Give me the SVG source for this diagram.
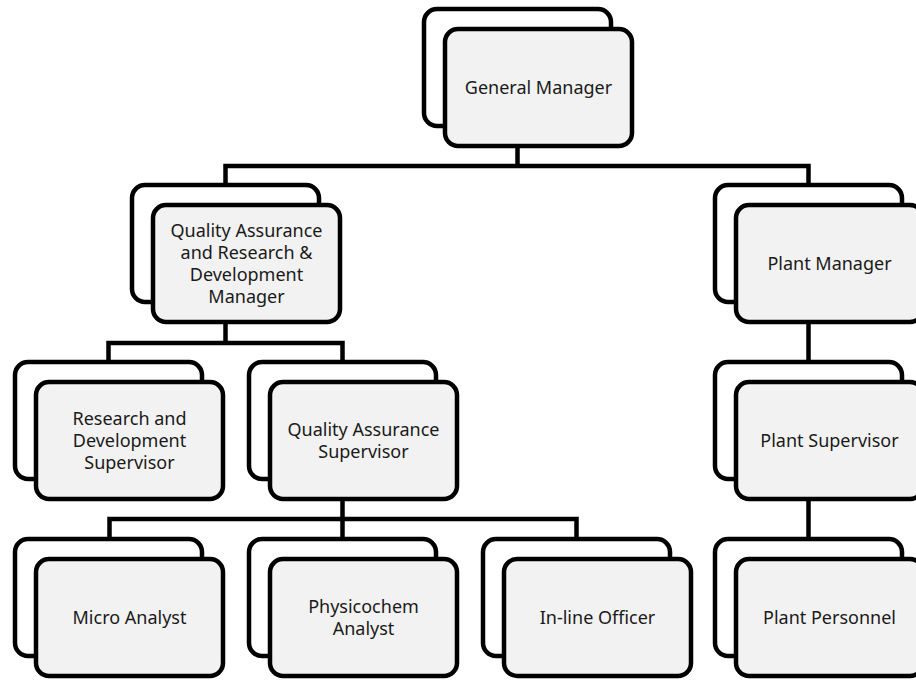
<svg xmlns="http://www.w3.org/2000/svg" width="916" height="681" viewBox="0 0 916 681">
<style>
.back{fill:#ffffff;stroke:#000000;stroke-width:4.5}
.front{fill:#f2f2f2;stroke:#000000;stroke-width:4.5}
.lbl{font-family:"Noto Sans","Open Sans",sans-serif;font-size:18px;fill:#1a1a1a;text-anchor:middle}
.conn{fill:none;stroke:#000000;stroke-width:4.5;stroke-linejoin:miter}
</style>
<rect width="916" height="681" fill="#ffffff"/>
<g id="connectors">
<path class="conn" d="M517.5,146 V166 M225.5,185 V166 H808.5 V185"/>
<path class="conn" d="M225.5,322 V343 M108.5,362 V343 H342.5 V362"/>
<path class="conn" d="M808.5,322 V362 M808.5,499 V539"/>
<path class="conn" d="M342.5,499 V519 M109.5,539 V519 H576.5 V539 M342.5,519 V539"/>
</g>
<g id="general-manager">
<rect class="back" x="424" y="9" width="187" height="117" rx="13"/>
<rect class="front" x="445" y="29" width="187" height="117" rx="13"/>
<text class="lbl" x="538.5" y="93.5">General Manager</text>
</g>
<g id="qa-rd-manager">
<rect class="back" x="132" y="185" width="187" height="117" rx="13"/>
<rect class="front" x="153" y="205" width="187" height="117" rx="13"/>
<text class="lbl" x="246.5" y="236.5">Quality Assurance</text>
<text class="lbl" x="246.5" y="258.5">and Research &amp;</text>
<text class="lbl" x="246.5" y="280.5">Development</text>
<text class="lbl" x="246.5" y="302.5">Manager</text>
</g>
<g id="plant-manager">
<rect class="back" x="715" y="185" width="187" height="117" rx="13"/>
<rect class="front" x="736" y="205" width="187" height="117" rx="13"/>
<text class="lbl" x="829.5" y="269.5">Plant Manager</text>
</g>
<g id="rd-supervisor">
<rect class="back" x="15" y="362" width="187" height="117" rx="13"/>
<rect class="front" x="36" y="382" width="187" height="117" rx="13"/>
<text class="lbl" x="129.5" y="424.5">Research and</text>
<text class="lbl" x="129.5" y="446.5">Development</text>
<text class="lbl" x="129.5" y="468.5">Supervisor</text>
</g>
<g id="qa-supervisor">
<rect class="back" x="249" y="362" width="187" height="117" rx="13"/>
<rect class="front" x="270" y="382" width="187" height="117" rx="13"/>
<text class="lbl" x="363.5" y="435.5">Quality Assurance</text>
<text class="lbl" x="363.5" y="457.5">Supervisor</text>
</g>
<g id="plant-supervisor">
<rect class="back" x="715" y="362" width="187" height="117" rx="13"/>
<rect class="front" x="736" y="382" width="187" height="117" rx="13"/>
<text class="lbl" x="829.5" y="446.5">Plant Supervisor</text>
</g>
<g id="micro-analyst">
<rect class="back" x="15" y="539" width="187" height="117" rx="13"/>
<rect class="front" x="36" y="559" width="187" height="117" rx="13"/>
<text class="lbl" x="129.5" y="623.5">Micro Analyst</text>
</g>
<g id="physicochem-analyst">
<rect class="back" x="249" y="539" width="187" height="117" rx="13"/>
<rect class="front" x="270" y="559" width="187" height="117" rx="13"/>
<text class="lbl" x="363.5" y="612.5">Physicochem</text>
<text class="lbl" x="363.5" y="634.5">Analyst</text>
</g>
<g id="inline-officer">
<rect class="back" x="483" y="539" width="187" height="117" rx="13"/>
<rect class="front" x="504" y="559" width="187" height="117" rx="13"/>
<text class="lbl" x="597.5" y="623.5">In-line Officer</text>
</g>
<g id="plant-personnel">
<rect class="back" x="715" y="539" width="187" height="117" rx="13"/>
<rect class="front" x="736" y="559" width="187" height="117" rx="13"/>
<text class="lbl" x="829.5" y="623.5">Plant Personnel</text>
</g>
</svg>
